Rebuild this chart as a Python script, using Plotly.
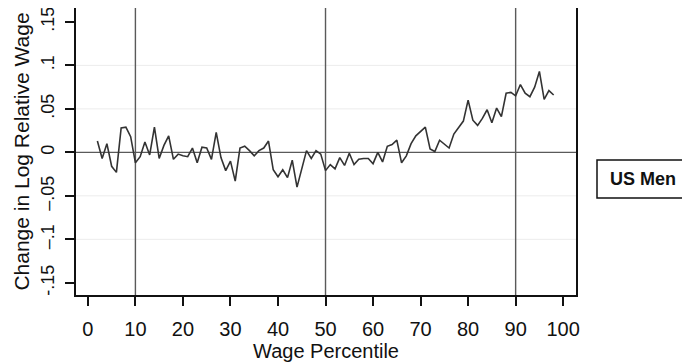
import plotly.graph_objects as go

# Data
percentile = list(range(2, 99))
change = [
    0.013, -0.007, 0.010, -0.016, -0.023, 0.028, 0.029, 0.018, -0.012, -0.005,
    0.012, -0.003, 0.029, -0.007, 0.008, 0.019, -0.008, -0.002, -0.004, -0.005,
    0.005, -0.012, 0.006, 0.005, -0.008, 0.023, -0.006, -0.021, -0.010, -0.033,
    0.005, 0.007, 0.002, -0.004, 0.002, 0.005, 0.013, -0.020, -0.028, -0.020,
    -0.029, -0.009, -0.040, -0.018, 0.002, -0.007, 0.002, -0.002, -0.021, -0.014,
    -0.019, -0.006, -0.015, -0.001, -0.014, -0.008, -0.007, -0.007, -0.013, 0.000,
    -0.011, 0.007, 0.009, 0.014, -0.012, -0.004, 0.010, 0.019, 0.024, 0.029,
    0.004, 0.001, 0.014, 0.010, 0.005, 0.021, 0.029, 0.036, 0.060, 0.037,
    0.031, 0.039, 0.049, 0.034, 0.051, 0.041, 0.068, 0.069, 0.065, 0.078,
    0.068, 0.064, 0.075, 0.093, 0.061, 0.071, 0.066,
]

x_tickvals = [0, 10, 20, 30, 40, 50, 60, 70, 80, 90, 100]
x_ticktext = ["0", "10", "20", "30", "40", "50", "60", "70", "80", "90", "100"]
y_tickvals = [-0.15, -0.10, -0.05, 0, 0.05, 0.10, 0.15]
y_ticktext = ["-.15", "\u2013.1", "\u2013.05", "0", ".05", ".1", ".15"]
ref_x_lines = [10, 50, 90]
ref_y_lines = [0]
faint_y_grid = [-0.10, -0.05, 0.05, 0.10]
legend_label = "US Men"

FONT = "Liberation Sans, Arial, sans-serif"

fig = go.Figure()
fig.add_trace(go.Scatter(
    x=percentile, y=change, mode="lines",
    line=dict(color="#333333", width=1.6),
    showlegend=False, hoverinfo="skip",
))

shapes = []
for v in faint_y_grid:
    shapes.append(dict(type="line", xref="paper", yref="y", x0=0, x1=1, y0=v, y1=v,
                       line=dict(color="#ececec", width=1), layer="below"))
for v in ref_x_lines:
    shapes.append(dict(type="line", xref="x", yref="paper", x0=v, x1=v, y0=0, y1=1,
                       line=dict(color="#5a5a5a", width=1.4), layer="below"))
for v in ref_y_lines:
    shapes.append(dict(type="line", xref="paper", yref="y", x0=0, x1=1, y0=v, y1=v,
                       line=dict(color="#5a5a5a", width=1.4), layer="below"))
# legend box
shapes.append(dict(type="rect", xref="paper", yref="paper",
                   x0=1.042, x1=1.224, y0=0.338, y1=0.470,
                   line=dict(color="#111111", width=1.5), fillcolor="white"))

# The page body has an 8px margin, so the figure is sized 8px smaller each way.
fig.update_layout(
    width=682, height=354,
    margin=dict(l=68, r=114, t=0, b=67, autoexpand=False),
    paper_bgcolor="white", plot_bgcolor="white",
    font=dict(family=FONT, color="#111111"),
    shapes=shapes,
    annotations=[dict(text="<b>" + legend_label + "</b>", xref="paper", yref="paper",
                      x=1.133, y=0.404, xanchor="center", yanchor="middle", showarrow=False,
                      font=dict(size=18, family=FONT, color="#111111"))],
    xaxis=dict(
        range=[-2.5, 102.7], tickvals=x_tickvals, ticktext=x_ticktext,
        showgrid=False, zeroline=False, automargin=False,
        showline=True, linecolor="#111111", linewidth=2, mirror=True,
        ticks="outside", ticklen=9, tickwidth=1.5, tickcolor="#111111",
        ticklabelstandoff=6,
        tickfont=dict(size=20, family=FONT),
        title=dict(text="Wage Percentile", font=dict(size=20, family=FONT), standoff=2),
    ),
    yaxis=dict(
        range=[-0.164, 0.166], tickvals=y_tickvals, ticktext=y_ticktext,
        showgrid=False, zeroline=False, automargin=False,
        showline=True, linecolor="#111111", linewidth=2, mirror=True,
        ticks="outside", ticklen=9, tickwidth=1.5, tickcolor="#111111",
        tickangle=-90, ticklabelstandoff=4, ticklabeloverflow="allow",
        tickfont=dict(size=18, family=FONT),
        title=dict(text="Change in Log Relative Wage", font=dict(size=21, family=FONT), standoff=2),
    ),
)

fig.write_html("out.html")
